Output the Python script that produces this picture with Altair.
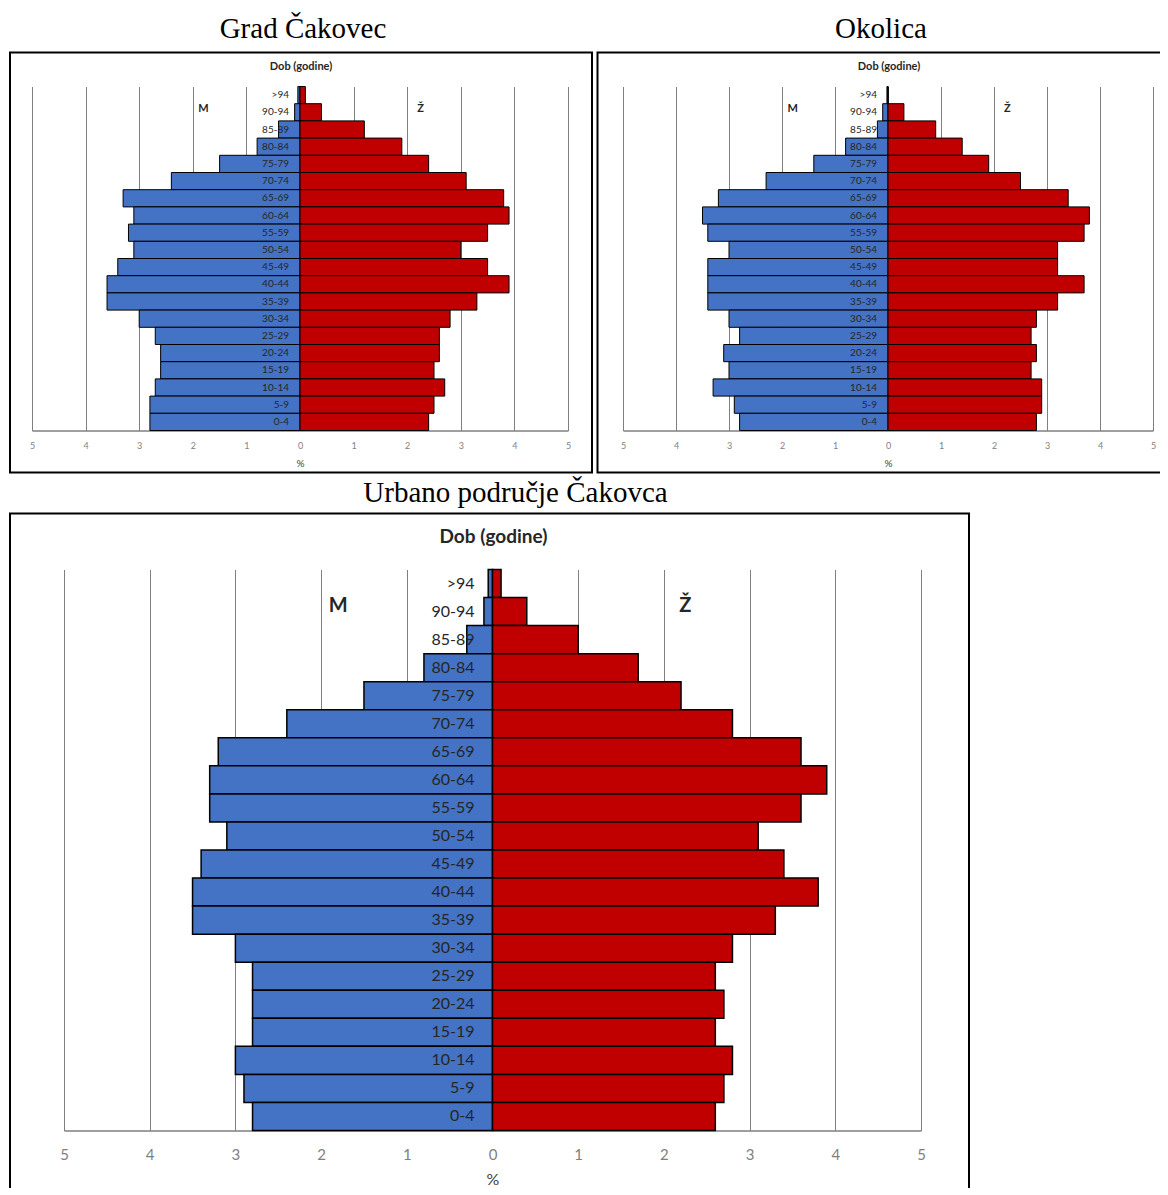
import altair as alt
import pandas as pd

ages = [">94", "90-94", "85-89", "80-84", "75-79", "70-74", "65-69", "60-64",
        "55-59", "50-54", "45-49", "40-44", "35-39", "30-34", "25-29", "20-24",
        "15-19", "10-14", "5-9", "0-4"]

# Grad Čakovec (%)
grad_m = [0.04, 0.1, 0.4, 0.8, 1.5, 2.4, 3.3, 3.1, 3.2, 3.1, 3.4, 3.6, 3.6, 3.0, 2.7, 2.6, 2.6, 2.7, 2.8, 2.8]
grad_z = [0.1, 0.4, 1.2, 1.9, 2.4, 3.1, 3.8, 3.9, 3.5, 3.0, 3.5, 3.9, 3.3, 2.8, 2.6, 2.6, 2.5, 2.7, 2.5, 2.4]

# Okolica (%)
okol_m = [0.02, 0.1, 0.2, 0.8, 1.4, 2.3, 3.2, 3.5, 3.4, 3.0, 3.4, 3.4, 3.4, 3.0, 2.8, 3.1, 3.0, 3.3, 2.9, 2.8]
okol_z = [0.0, 0.3, 0.9, 1.4, 1.9, 2.5, 3.4, 3.8, 3.7, 3.2, 3.2, 3.7, 3.2, 2.8, 2.7, 2.8, 2.7, 2.9, 2.9, 2.8]

# Urbano područje Čakovca (%)
urb_m = [0.05, 0.1, 0.3, 0.8, 1.5, 2.4, 3.2, 3.3, 3.3, 3.1, 3.4, 3.5, 3.5, 3.0, 2.8, 2.8, 2.8, 3.0, 2.9, 2.8]
urb_z = [0.1, 0.4, 1.0, 1.7, 2.2, 2.8, 3.6, 3.9, 3.6, 3.1, 3.4, 3.8, 3.3, 2.8, 2.6, 2.7, 2.6, 2.8, 2.7, 2.6]

ticks = [-5, -4, -3, -2, -1, 0, 1, 2, 3, 4, 5]
sexes = ["M", "Ž"]
colors = ["#4472C4", "#C00000"]
FONT = "Lato"


def panel(title, m, z, W, H, xr, box, s, title_dx=0):
    """xr: pixel range of the x scale inside the panel; box: frame offsets."""
    df = pd.DataFrame({
        "age": ages * 2,
        "sex": ["M"] * len(ages) + ["Ž"] * len(ages),
        "value": [-v for v in m] + list(z),
    })
    cx = (xr[0] + xr[1]) / 2
    xscale = alt.Scale(domain=[-5, 5], nice=False, zero=False, range=list(xr))
    yenc = alt.Y("age:N", sort=ages, scale=alt.Scale(paddingInner=0, paddingOuter=0), axis=None)
    one = pd.DataFrame({"k": [0]})

    frame = alt.Chart(one).mark_rect(fill="white", fillOpacity=0, stroke="black", strokeWidth=2).encode(
        x=alt.value(box[0]), x2=alt.value(box[1]), y=alt.value(box[2]), y2=alt.value(H + box[3]))

    bars = alt.Chart(df).mark_bar(stroke="black", strokeWidth=s["bw"]).encode(
        x=alt.X("value:Q", scale=xscale,
                axis=alt.Axis(values=ticks, labelExpr="abs(datum.value)", grid=True,
                              gridColor="#7f7f7f", gridWidth=1, domainColor="#7f7f7f",
                              domainWidth=1.5, ticks=False, labelColor="#7f7f7f",
                              labelFlush=False,
                              labelFont=FONT, labelFontSize=s["tick"], labelPadding=s["lp"],
                              title="%", titleFont=FONT, titleFontSize=s["pct"],
                              titleFontWeight="normal", titleColor="#404040",
                              titlePadding=s["tp"], titleX=cx, titleAlign="center")),
        y=yenc,
        color=alt.Color("sex:N", scale=alt.Scale(domain=sexes, range=colors), legend=None),
    )

    labels = alt.Chart(pd.DataFrame({"age": ages})).mark_text(
        align="right", baseline="middle", dx=-s["ldx"], font=FONT, fontSize=s["age"], color="#262626"
    ).encode(x=alt.datum(0), y=yenc, text="age:N")

    mz = alt.Chart(pd.DataFrame({"t": sexes, "xv": [-1.8, 2.25], "age": ["90-94", "90-94"]})).mark_text(
        align="center", baseline="alphabetic", font=FONT, fontWeight="bold", fontSize=s["mz"], color="#262626"
    ).encode(x=alt.X("xv:Q"), y=yenc, text="t:N")

    dob = alt.Chart(one).mark_text(
        align="center", baseline="middle", font=FONT, fontWeight="bold", fontSize=s["dob"], color="#262626"
    ).encode(x=alt.value(cx + 1), y=alt.value(s["doby"]), text=alt.value("Dob (godine)"))

    return alt.layer(frame, bars, labels, mz, dob).properties(
        width=W, height=H,
        title=alt.Title(title, font="Liberation Serif", fontSize=29, fontWeight="normal",
                        color="black", anchor="middle", offset=s["toff"], dx=title_dx),
    )


small = dict(bw=1, tick=9, lp=11, pct=10, tp=8, ldx=11, age=10, mz=11, dob=11, doby=-20, toff=8)
big = dict(bw=1.5, tick=15, lp=17, pct=16, tp=9, ldx=18, age=16, mz=20, dob=19, doby=-33, toff=5)

# panel 1 shares its left origin with panel 3 (column alignment), so its scale range is shifted left
p1 = panel("Grad Čakovec", grad_m, grad_z, 504, 344, (-32, 504), (-54, 528, -34, 42), small, title_dx=-13)
p2 = panel("Okolica", okol_m, okol_z, 530, 344, (0, 530), (-25.5, 549.5, -34, 42), small, title_dx=-7)
p3 = panel("Urbano područje Čakovca", urb_m, urb_z, 857, 561, (0, 857), (-54, 905, -56, 66), big, title_dx=23)

chart = alt.vconcat(alt.hconcat(p1, p2, spacing=-4), p3, spacing=5).properties(
    padding={"left": 1, "top": 6.5, "right": -14, "bottom": -10}
).configure_view(stroke=None)

chart.save("out.html", embed_options={"renderer": "svg", "actions": False})
